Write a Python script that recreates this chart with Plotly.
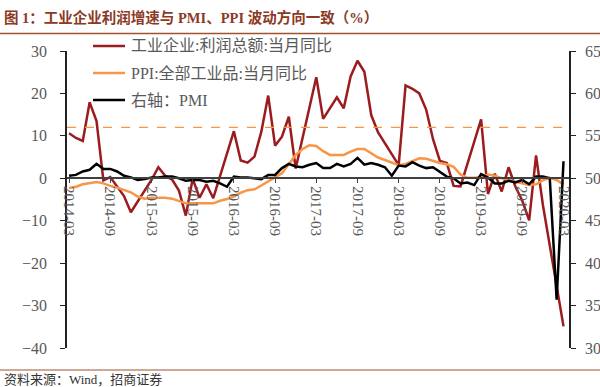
import plotly.graph_objects as go
import pandas as pd

months = [p.strftime("%Y-%m") for p in pd.period_range("2014-03", "2020-03", freq="M")]

profit = [10.6, 9.5, 8.8, 17.9, 13.5, -0.5, 0.3, -2.1, -4.2, -8.0,
          None, None, -0.4, 2.6, 0.6, -0.3, -2.9, -8.8, -0.1, -4.6, -1.4, -4.7,
          None, None, 11.1, 4.2, 3.7, 5.1, 11.0, 19.5, 7.7, 9.8, 14.5, 2.3,
          None, None, 23.8, 14.0, 16.7, 19.1, 16.5, 24.0, 27.7, 25.1, 14.9, 10.8,
          None, None, 3.1, 21.9, 21.1, 20.0, 16.2, 9.2, 4.1, 3.6, -1.8, -1.9,
          None, None, 13.9, -3.7, 1.1, -3.1, 2.6, -2.0, -5.3, -9.9, 5.4, -6.3,
          None, None, -34.9]

ppi = [-2.3, -2.0, -1.4, -1.1, -0.9, -1.2, -1.8, -2.2, -2.7, -3.3,
       -4.3, -4.8, -4.6, -4.6, -4.6, -4.8, -5.4, -5.9, -5.9, -5.9, -5.9, -5.9,
       -5.3, -4.9, -4.3, -3.4, -2.8, -2.6, -1.7, -0.8, 0.1, 1.2, 3.3, 5.5,
       6.9, 7.8, 7.6, 6.4, 5.5, 5.5, 5.5, 6.3, 6.9, 6.9, 5.8, 4.9,
       4.3, 3.7, 3.1, 3.4, 4.1, 4.7, 4.6, 4.1, 3.6, 3.3, 2.7, 0.9,
       0.1, 0.1, 0.4, 0.9, 0.6, 0.0, -0.3, -0.8, -1.2, -1.6, -1.4, -0.5,
       0.1, -0.4, -1.5]

pmi = [50.3, 50.4, 50.8, 51.0, 51.7, 51.1, 51.1, 50.8, 50.3, 50.1,
       49.8, 49.9, 50.1, 50.1, 50.2, 50.2, 50.0, 49.7, 49.8, 49.8, 49.6, 49.7,
       49.4, 49.0, 50.2, 50.1, 50.1, 50.0, 49.9, 50.4, 50.4, 51.2, 51.7, 51.4,
       51.3, 51.6, 51.8, 51.2, 51.2, 51.7, 51.4, 51.7, 52.4, 51.6, 51.8, 51.6,
       51.3, 50.3, 51.5, 51.4, 51.9, 51.5, 51.2, 51.3, 50.8, 50.2, 50.0, 49.4,
       49.5, 49.2, 50.5, 50.1, 49.4, 49.4, 49.7, 49.5, 49.8, 49.3, 50.2, 50.2,
       50.0, 35.7, 52.0]

tick_labels = ["2014-03", "2014-09", "2015-03", "2015-09", "2016-03", "2016-09",
               "2017-03", "2017-09", "2018-03", "2018-09", "2019-03", "2019-09", "2020-03"]

series_names = ["工业企业:利润总额:当月同比", "PPI:全部工业品:当月同比", "右轴：PMI"]
series_colors = ["#9B1B1E", "#F79646", "#000000"]

ref_level = 12

SERIF = "Liberation Serif, Noto Sans CJK SC, serif"
GRAY = "#595959"

fig = go.Figure()
fig.add_trace(go.Scatter(x=months, y=profit, name=series_names[0], mode="lines",
                         line=dict(color=series_colors[0], width=2.5), connectgaps=True))
fig.add_trace(go.Scatter(x=months, y=ppi, name=series_names[1], mode="lines",
                         line=dict(color=series_colors[1], width=2.5)))
fig.add_trace(go.Scatter(x=months, y=pmi, name=series_names[2], mode="lines", yaxis="y2",
                         line=dict(color=series_colors[2], width=2.5)))

fig.add_shape(type="line", xref="x domain", yref="y", x0=0, x1=1, y0=ref_level, y1=ref_level,
              line=dict(color="#F79646", width=1.2, dash="dash"))

W, H = 600, 387
L, R, T, B = 67, 569, 51, 348
def px(p):
    return (p - L) / (R - L)
def py(p):
    return (B - p) / (B - T)

# header / footer rules
fig.add_shape(type="line", xref="paper", yref="paper", x0=px(0), x1=px(600), y0=py(33.5), y1=py(33.5),
              line=dict(color="#A0522D", width=1.5))
fig.add_shape(type="line", xref="paper", yref="paper", x0=px(0), x1=px(600), y0=py(370), y1=py(370),
              line=dict(color="#A0522D", width=1))

fig.add_annotation(text="<b>图 1：工业企业利润增速与 PMI、PPI 波动方向一致（%）</b>", xref="paper", yref="paper",
                   x=px(2), y=py(17), xanchor="left", yanchor="middle", showarrow=False,
                   font=dict(family=SERIF, size=14.5, color="#8B3A26"))
fig.add_annotation(text="资料来源：Wind，招商证券", xref="paper", yref="paper",
                   x=px(2), y=py(379), xanchor="left", yanchor="middle", showarrow=False,
                   font=dict(family=SERIF, size=13, color="#333333"))

# legend (drawn manually so it can sit above the plot area without shifting margins)
legend_rows = [46, 73, 100]
for name, color, row in zip(series_names, series_colors, legend_rows):
    fig.add_shape(type="line", xref="paper", yref="paper", x0=px(93), x1=px(125), y0=py(row), y1=py(row),
                  line=dict(color=color, width=2.5))
    fig.add_annotation(text=name, xref="paper", yref="paper", x=px(129), y=py(row),
                       xanchor="left", yanchor="middle", showarrow=False,
                       font=dict(family=SERIF, size=16, color=GRAY))

fig.update_layout(
    width=W, height=H,
    margin=dict(l=L, r=W - R, t=T, b=H - B, pad=0, autoexpand=False),
    paper_bgcolor="white", plot_bgcolor="white",
    showlegend=False,
    xaxis=dict(type="category", range=[-0.3, 72.8], tickmode="array", tickvals=tick_labels,
               ticktext=tick_labels, tickangle=90, anchor="free", position=40 / 70, automargin=False,
               showline=True, linecolor="#404040", linewidth=1.5, ticks="outside", ticklen=4,
               tickcolor="#404040", showgrid=False, zeroline=False,
               tickfont=dict(family=SERIF, size=15, color=GRAY)),
    yaxis=dict(range=[-40, 30], dtick=10, tick0=0, automargin=False, showline=True, linecolor="#222222",
               linewidth=1.5, ticks="outside", ticklen=5, tickcolor="#222222", showgrid=False, zeroline=False,
               ticklabelstandoff=10, tickfont=dict(family=SERIF, size=16, color=GRAY)),
    yaxis2=dict(range=[30, 65], dtick=5, tick0=30, overlaying="y", side="right", anchor="x", automargin=False,
                showline=True, linecolor="#222222", linewidth=1.5, ticks="outside", ticklen=5,
                tickcolor="#222222", showgrid=False, zeroline=False, ticklabelstandoff=6,
                tickfont=dict(family=SERIF, size=16, color=GRAY)),
)

fig.write_html("out.html", config={"displayModeBar": False},
               post_script="document.body.style.margin='0px';")
